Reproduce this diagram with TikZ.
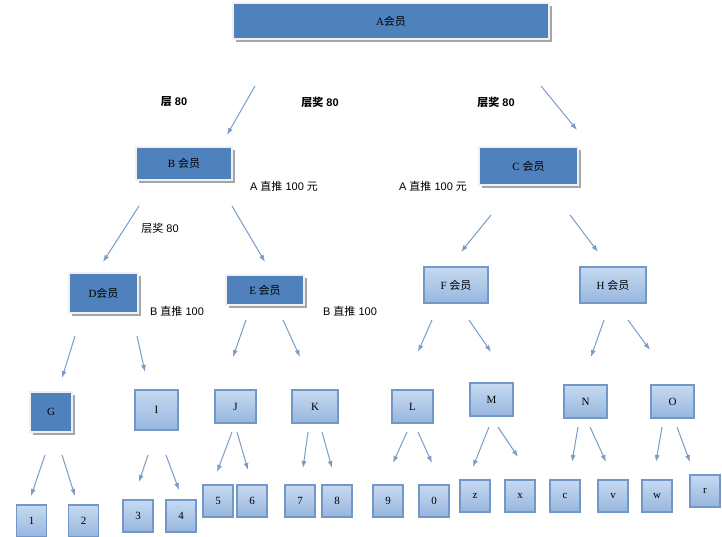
\documentclass[tikz,border=0pt]{standalone}
\usepackage{fontspec}
\usetikzlibrary{arrows.meta}
\setmainfont{Liberation Serif}
\newfontfamily\cjk{Noto Sans CJK SC}
\newfontfamily\lsans{Liberation Sans}
\begin{document}
\begin{tikzpicture}[x=1pt,y=-1pt]
\definecolor{dk}{HTML}{4F81BD}
\definecolor{lt1}{HTML}{C6DAF1}
\definecolor{lt2}{HTML}{97B6DE}
\definecolor{ed}{HTML}{7198C6}
\definecolor{ar}{HTML}{7A9CC6}
\tikzset{
 dark/.style={draw=black!6,line width=2.5pt,fill=dk,inner sep=0pt,font=\fontsize{11}{11}\selectfont},
 light/.style={draw=ed,line width=1.2pt,top color=lt1,bottom color=lt2,inner sep=0pt,font=\fontsize{11}{11}\selectfont},
 arr/.style={draw=ar,line width=1pt,-{Latex[length=7pt,width=5pt]}},
 lab/.style={font=\lsans\fontsize{11}{11}\selectfont},
 blab/.style={font=\lsans\bfseries\fontsize{11}{11}\selectfont}
}
\useasboundingbox (0,0) rectangle (722,537);
\fill[white] (0,0) rectangle (722,537);
\foreach \a/\b/\c/\d in {233/3/549/39,136/147/232/180,479/147/578/185,69/273/138/313,226/275/304/305,30/392/72/432}
  \fill[black!35] (\a+3,\b+3) rectangle (\c+3,\d+3);
\node[dark,minimum width=316pt,minimum height=36pt] (A) at (391,21) {A{\cjk 会员}};
\node[dark,minimum width=96pt,minimum height=33pt] (B) at (184,163.5) {B {\cjk 会员}};
\node[dark,minimum width=99pt,minimum height=38pt] (C) at (528.5,166) {C {\cjk 会员}};
\node[dark,minimum width=69pt,minimum height=40pt] (D) at (103.5,293) {D{\cjk 会员}};
\node[dark,minimum width=78pt,minimum height=30pt] (E) at (265,290) {E {\cjk 会员}};
\node[light,minimum width=64pt,minimum height=36pt] (F) at (456,285) {F {\cjk 会员}};
\node[light,minimum width=66pt,minimum height=36pt] (H) at (613,285) {H {\cjk 会员}};
\node[dark,minimum width=42pt,minimum height=40pt] (G) at (51,412) {G};
\foreach \n/\x/\y/\w/\h in {I/156.5/410/43/40, J/235.5/406.5/41/33, K/315/406.5/46/33, L/412.5/406.5/41/33, M/491.5/399.5/43/33, N/585.5/401.5/43/33, O/672.5/401.5/43/33}
  \node[light,minimum width=\w pt,minimum height=\h pt] (\n) at (\x,\y) {\n};
\foreach \n/\x/\y in {1/31.5/521,2/83.5/521,3/138/516,4/181/516,5/218/501,6/252/501,7/300/501,8/337/501,9/388/501,0/434/501,z/475/496,x/520/496,c/565/496,v/613/496,w/657/496,r/705/491}
  \node[light,minimum width=30pt,minimum height=32pt] (n\n) at (\x,\y) {\n};
\foreach \a/\b/\c/\d in {255/86/227/135, 541/86/577/130, 139/206/103/262, 232/206/265/262, 491/215/461/252, 570/215/598/252, 75/336/62/378, 137/336/145/372, 246/320/233/357, 283/320/300/357, 432/320/418/352, 469/320/491/352, 604/320/591/357, 628/320/650/350, 45/455/31/496, 62/455/75/496, 148/455/139/482, 166/455/179/490, 232/432/217/472, 237/432/248/470, 308/432/303/468, 322/432/332/468, 407/432/393/463, 418/432/432/463, 489/427/473/467, 498/427/518/457, 578/427/572/462, 590/427/606/462, 662/427/656/462, 677/427/690/462}
  \draw[arr] (\a,\b) -- (\c,\d);
\node[blab] (l1) at (174,102) {{\cjk 层} 80};
\node[blab] (l2) at (320,102) {{\cjk 层奖} 80};
\node[blab] (l3) at (496,102) {{\cjk 层奖} 80};
\node[lab] (l4) at (284,186) {A {\cjk 直推} 100 {\cjk 元}};
\node[lab] (l5) at (433,186) {A {\cjk 直推} 100 {\cjk 元}};
\node[lab] (l6) at (160,228) {{\cjk 层奖} 80};
\node[lab] (l7) at (177,311) {B {\cjk 直推} 100};
\node[lab] (l8) at (350,311) {B {\cjk 直推} 100};
\end{tikzpicture}
\end{document}
